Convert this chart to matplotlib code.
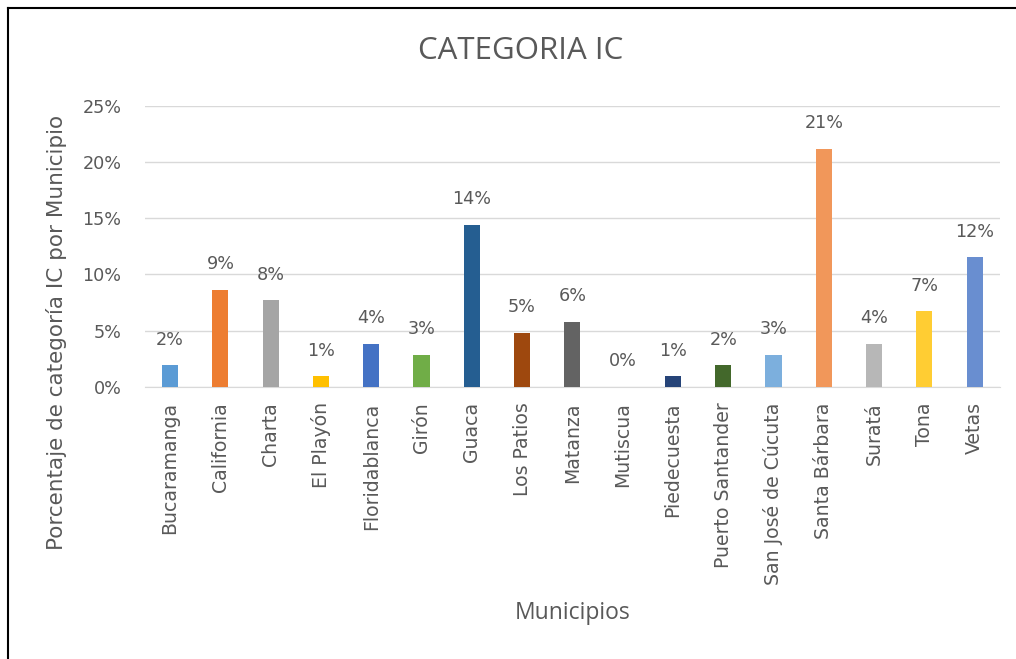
import numpy as np
import matplotlib.pyplot as plt
from matplotlib.lines import Line2D

# Datos
municipios = ['Bucaramanga', 'California', 'Charta', 'El Playón', 'Floridablanca',
              'Girón', 'Guaca', 'Los Patios', 'Matanza', 'Mutiscua', 'Piedecuesta',
              'Puerto Santander', 'San José de Cúcuta', 'Santa Bárbara', 'Suratá',
              'Tona', 'Vetas']
porcentajes = [1.92, 8.65, 7.69, 0.96, 3.85, 2.88, 14.42, 4.81, 5.77, 0.0, 0.96,
               1.92, 2.88, 21.15, 3.85, 6.73, 11.54]
etiquetas = ['2%', '9%', '8%', '1%', '4%', '3%', '14%', '5%', '6%', '0%', '1%',
             '2%', '3%', '21%', '4%', '7%', '12%']
colores = ['#5B9BD5', '#ED7D31', '#A5A5A5', '#FFC000', '#4472C4', '#70AD47',
           '#255E91', '#9E480E', '#636363', '#997300', '#264478', '#43682B',
           '#7CAFDD', '#F1975A', '#B7B7B7', '#FFCD33', '#698ED0']
yticks = [0, 5, 10, 15, 20, 25]

gris = '#595959'
plt.rcParams['font.family'] = ['DejaVu Sans']

fig = plt.figure(figsize=(10.16, 6.59), dpi=100)
ax = fig.add_axes([0.1427, 0.4127, 0.8413, 0.4269])

x = np.arange(len(municipios))
ax.bar(x, porcentajes, width=0.32, color=colores, zorder=3)

# Etiquetas de datos
for xi, v, t in zip(x, porcentajes, etiquetas):
    ax.annotate(t, (xi, v), xytext=(0, 12), textcoords='offset points',
                ha='center', va='bottom', fontsize=12.7, color=gris)

ax.set_xlim(-0.5, len(municipios) - 0.5)
ax.set_ylim(0, 25)
ax.set_yticks(yticks)
ax.set_yticklabels([f'{t}%' for t in yticks], fontsize=12.7, color=gris)
ax.set_xticks(x)
ax.set_xticklabels(municipios, rotation=90, fontsize=13.6, color=gris)
ax.tick_params(length=0)
ax.tick_params(axis='x', pad=11)
ax.tick_params(axis='y', pad=17)

ax.grid(axis='y', color='#D9D9D9', linewidth=1, zorder=0)
for s in ['top', 'right', 'left']:
    ax.spines[s].set_visible(False)
ax.spines['bottom'].set_color('#D9D9D9')

fig.text(0.512, 0.922, 'CATEGORIA IC', ha='center', va='center',
         fontsize=22.5, color=gris, family='Open Sans')
fig.text(0.056, 0.496, 'Porcentaje de categoría IC por Municipio', rotation=90,
         ha='center', va='center', fontsize=15.5, color=gris)
fig.text(0.564, 0.070, 'Municipios', ha='center', va='center',
         fontsize=16.5, color=gris, family='Open Sans')

# Marco superior e izquierdo de la captura
fig.add_artist(Line2D([0.0074, 0.0074], [0, 0.9886], color='black', linewidth=1.5,
                      transform=fig.transFigure))
fig.add_artist(Line2D([0.0074, 1.0], [0.9886, 0.9886], color='black', linewidth=1.5,
                      transform=fig.transFigure))

fig.savefig('out.png', dpi=100)
